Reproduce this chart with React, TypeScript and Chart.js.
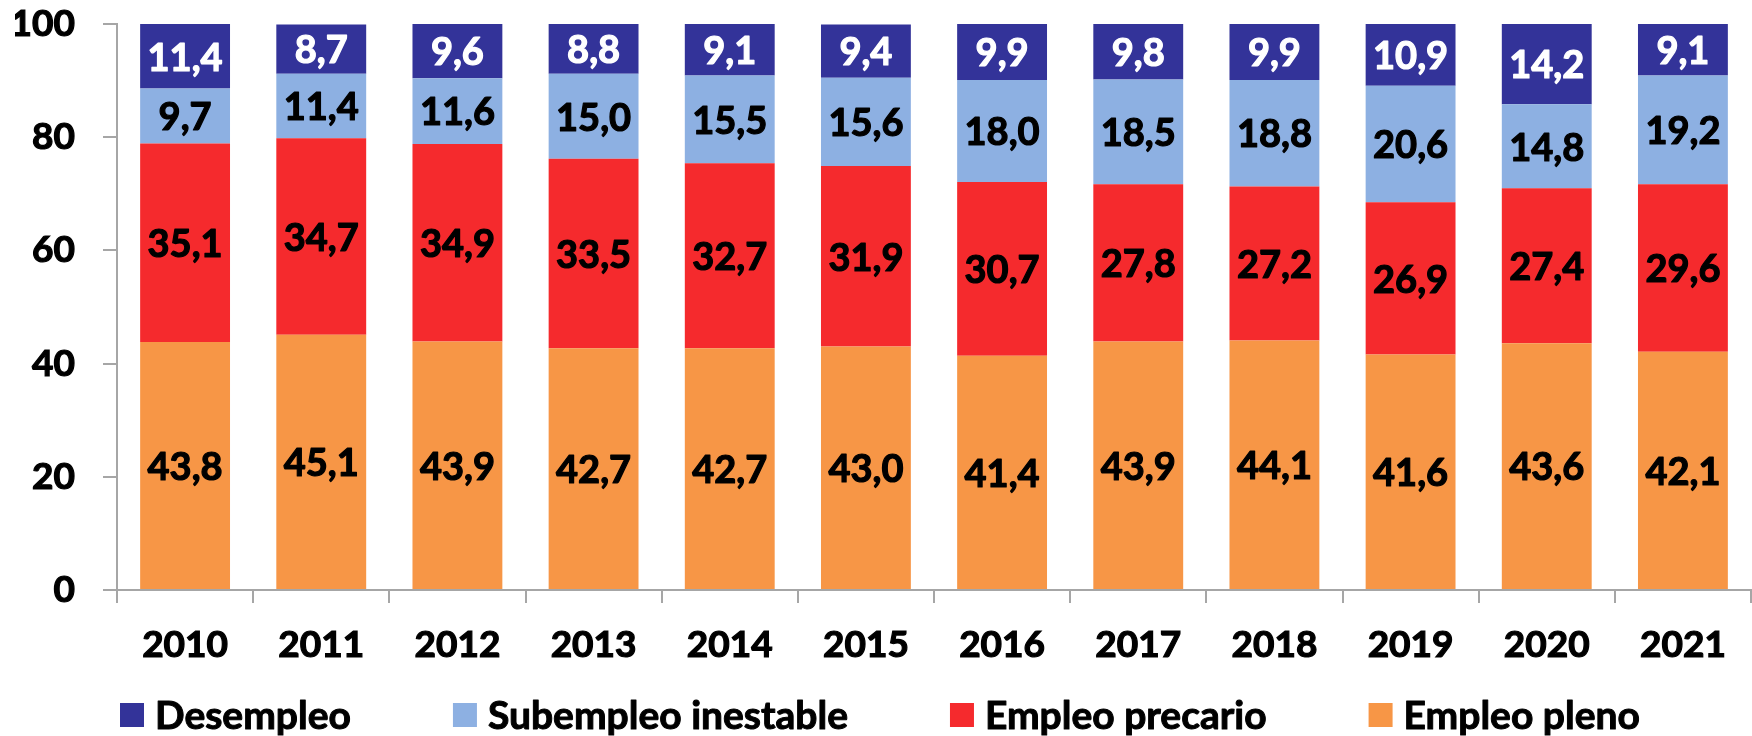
import React, { useEffect, useRef } from "react";
import { Chart, registerables } from "chart.js";

Chart.register(...registerables);

const years = ["2010", "2011", "2012", "2013", "2014", "2015", "2016", "2017", "2018", "2019", "2020", "2021"];
const empleoPleno = [43.8, 45.1, 43.9, 42.7, 42.7, 43.0, 41.4, 43.9, 44.1, 41.6, 43.6, 42.1];
const empleoPrecario = [35.1, 34.7, 34.9, 33.5, 32.7, 31.9, 30.7, 27.8, 27.2, 26.9, 27.4, 29.6];
const subempleo = [9.7, 11.4, 11.6, 15.0, 15.5, 15.6, 18.0, 18.5, 18.8, 20.6, 14.8, 19.2];
const desempleo = [11.4, 8.7, 9.6, 8.8, 9.1, 9.4, 9.9, 9.8, 9.9, 10.9, 14.2, 9.1];
const yTicks = [0, 20, 40, 60, 80, 100];

const FONT = "Lato, 'Liberation Sans', sans-serif";

const valueLabels = {
  id: "valueLabels",
  afterDatasetsDraw(chart: any) {
    const ctx = chart.ctx;
    ctx.save();
    ctx.font = `bold 38px ${FONT}`;
    ctx.textAlign = "center";
    ctx.textBaseline = "middle";
    ctx.lineWidth = 1.2;
    ctx.lineJoin = "round";
    chart.data.datasets.forEach((ds: any, di: number) => {
      const meta = chart.getDatasetMeta(di);
      meta.data.forEach((el: any, i: number) => {
        const v = ds.data[i];
        const txt = v.toFixed(1).replace(".", ",");
        const y = (el.y + el.base) / 2 + 2;
        ctx.fillStyle = ds.labelColor;
        ctx.strokeStyle = ds.labelColor;
        ctx.fillText(txt, el.x, y);
        ctx.strokeText(txt, el.x, y);
      });
    });
    ctx.restore();
  },
};

const customLegend = {
  id: "customLegend",
  afterDraw(chart: any) {
    const ctx = chart.ctx;
    ctx.save();
    ctx.font = `bold 39px ${FONT}`;
    ctx.textBaseline = "middle";
    ctx.textAlign = "left";
    ctx.lineWidth = 1;
    ctx.lineJoin = "round";
    const items = [...chart.data.datasets].reverse();
    let x = 120;
    const yc = 715;
    items.forEach((ds: any) => {
      ctx.fillStyle = ds.backgroundColor;
      ctx.fillRect(x, yc - 12, 24, 24);
      x += 24 + 11;
      ctx.fillStyle = "#000";
      ctx.strokeStyle = "#000";
      ctx.fillText(ds.label, x, yc + 1);
      ctx.strokeText(ds.label, x, yc + 1);
      x += ctx.measureText(ds.label).width + 102;
    });
    ctx.restore();
  },
};

export default function App() {
  const ref = useRef<HTMLCanvasElement | null>(null);
  useEffect(() => {
    if (!ref.current) return;
    const chart = new Chart(ref.current, {
      type: "bar",
      data: {
        labels: years,
        datasets: [
          { label: "Empleo pleno", data: empleoPleno, backgroundColor: "#F79646", labelColor: "#000" } as any,
          { label: "Empleo precario", data: empleoPrecario, backgroundColor: "#F52A2D", labelColor: "#000" } as any,
          { label: "Subempleo inestable", data: subempleo, backgroundColor: "#8DB0E2", labelColor: "#000" } as any,
          { label: "Desempleo", data: desempleo, backgroundColor: "#333399", labelColor: "#fff" } as any,
        ],
      },
      options: {
        responsive: false,
        animation: false,
        datasets: { bar: { categoryPercentage: 0.66, barPercentage: 1, borderWidth: 0 } },
        layout: { padding: { left: 15, right: 1, top: 24, bottom: 50 } },
        plugins: { legend: { display: false }, tooltip: { enabled: false } },
        scales: {
          x: {
            stacked: true,
            afterFit: (axis: any) => {
              axis.height = 96;
              axis.paddingLeft = 0;
              axis.paddingRight = 0;
            },
            grid: { display: true, drawOnChartArea: false, drawTicks: true, tickLength: 13, color: "#A6A6A6", lineWidth: 2, offset: true },
            border: { display: true, color: "#A6A6A6", width: 2 },
            ticks: {
              color: "#000",
              font: { family: FONT, size: 37, weight: "bold" },
              padding: 20,
              maxRotation: 0,
              textStrokeColor: "#000",
              textStrokeWidth: 1.2,
            } as any,
          },
          y: {
            stacked: true,
            min: 0,
            max: 100,
            afterBuildTicks: (axis: any) => {
              axis.ticks = yTicks.map((v) => ({ value: v }));
            },
            afterFit: (axis: any) => {
              axis.width = 102;
              axis.paddingTop = 0;
              axis.paddingBottom = 0;
            },
            grid: { display: true, drawOnChartArea: false, drawTicks: true, tickLength: 14, color: "#A6A6A6", lineWidth: 2 },
            border: { display: true, color: "#A6A6A6", width: 2 },
            ticks: {
              color: "#000",
              font: { family: FONT, size: 37, weight: "bold" },
              padding: 28,
              textStrokeColor: "#000",
              textStrokeWidth: 1.2,
            } as any,
          },
        },
      },
      plugins: [valueLabels, customLegend],
    });
    return () => chart.destroy();
  }, []);
  return (
    <div style={{ position: "absolute", left: 0, top: 0, width: 1752, height: 736, background: "#fff" }}>
      <canvas ref={ref} width={1752} height={736} style={{ width: 1752, height: 736 }} />
    </div>
  );
}
